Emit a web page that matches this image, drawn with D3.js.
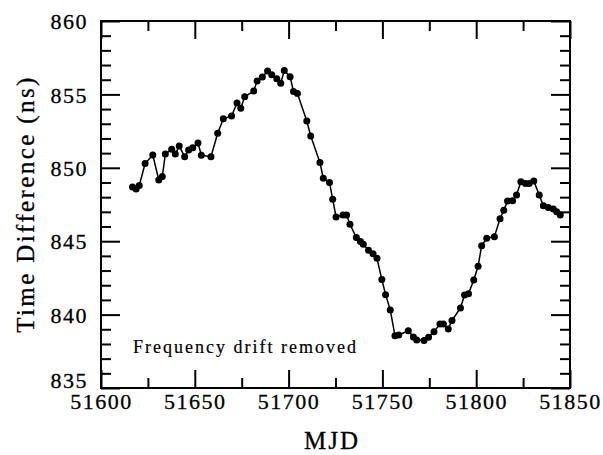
<!DOCTYPE html>
<html>
<head>
<meta charset="utf-8">
<script src="https://cdn.jsdelivr.net/npm/d3@7"></script>
<style>
	body { margin: 0; background: #fff; }
	svg, svg text { font-family: "Liberation Serif", "DejaVu Serif", serif !important; }
</style>
</head>
<body>
<svg width="603" height="455" font-family="Liberation Serif"></svg>
<script>
// MJD of each sample
const mjd = [
	51616.8, 51618.7, 51620.4, 51623.5, 51627.6, 51630.8, 51632.7, 51634.3, 51637.7, 51639.6,
	51641.7, 51644.6, 51646.7, 51648.9, 51651.7, 51653.5, 51658.6, 51662.2, 51665.2, 51669.6,
	51672.5, 51674.5, 51676.6, 51681.4, 51683.2, 51686.0, 51688.8, 51691.0, 51693.7, 51695.8,
	51697.7, 51700.8, 51702.6, 51704.7, 51709.7, 51711.8, 51716.7, 51718.5, 51721.8, 51723.5,
	51725.3, 51729.0, 51730.9, 51732.7, 51736.1, 51738.3, 51739.8, 51742.6, 51745.0, 51747.1,
	51749.7, 51751.7, 51754.2, 51756.7, 51758.7, 51763.8, 51766.5, 51768.3, 51772.2, 51774.6,
	51777.5, 51780.7, 51782.5, 51785.1, 51787.1, 51791.6, 51793.8, 51795.9, 51798.7, 51801.0,
	51802.9, 51805.6, 51809.7, 51812.7, 51814.7, 51816.7, 51819.4, 51821.5, 51823.8, 51826.3,
	51828.2, 51830.7, 51833.6, 51835.8, 51838.4, 51841.1, 51842.9, 51844.8
]

// time difference (ns)
const timeDiff = [
	848.69, 848.56, 848.79, 850.29, 850.87, 849.17, 849.41, 850.94, 851.26, 850.94,
	851.48, 850.76, 851.21, 851.37, 851.69, 850.85, 850.76, 852.35, 853.34, 853.53,
	854.41, 854.05, 854.84, 855.23, 855.91, 856.19, 856.59, 856.34, 856.07, 855.76,
	856.63, 856.21, 855.20, 855.06, 853.19, 852.17, 850.36, 849.28, 849.00, 847.86,
	846.65, 846.78, 846.78, 846.15, 845.25, 844.98, 844.79, 844.38, 844.15, 843.84,
	842.39, 841.36, 840.31, 838.56, 838.61, 838.90, 838.47, 838.27, 838.24, 838.45,
	838.84, 839.36, 839.36, 839.02, 839.60, 840.45, 841.34, 841.42, 842.36, 843.29,
	844.69, 845.20, 845.31, 846.53, 847.10, 847.74, 847.76, 848.15, 849.05, 848.93,
	848.93, 849.10, 848.15, 847.41, 847.30, 847.19, 847.01, 846.78
]

const xTicks = [51600, 51650, 51700, 51750, 51800, 51850]
const xMinor = [51625, 51675, 51725, 51775, 51825]
const yTicks = [835, 840, 845, 850, 855, 860]
const yMinor = d3.range(835, 861).filter(v => v % 5 !== 0)

const svg = d3.select('svg')
const mLeft = 101, mRight = 570, mTop = 21, mBottom = 388

const x = d3.scaleLinear().domain([51600, 51850]).range([mLeft, mRight])
const y = d3.scaleLinear().domain([835, 860]).range([mBottom, mTop])

const data = mjd.map((m, i) => ({m, v: timeDiff[i]}))

// ticks, all pointing inward
const tickAxis = (axis, tx, ty) => {
	const g = svg.append('g').attr('transform', `translate(${tx},${ty})`).call(axis)
	g.attr('font-family', null).attr('font-size', null)
	g.select('.domain').remove()
	g.selectAll('line').attr('stroke', '#000').attr('stroke-width', 2)
	g.selectAll('text').attr('fill', '#000')
		.attr('stroke', '#000').attr('stroke-width', 0.3)
	return g
}

const gx = tickAxis(d3.axisBottom(x).tickValues(xTicks).tickSize(-18).tickFormat(d3.format('d')), 0, mBottom)
tickAxis(d3.axisBottom(x).tickValues(xMinor).tickSize(-10).tickFormat(''), 0, mBottom)
tickAxis(d3.axisTop(x).tickValues(xTicks).tickSize(-18).tickFormat(''), 0, mTop)
tickAxis(d3.axisTop(x).tickValues(xMinor).tickSize(-10).tickFormat(''), 0, mTop)

const gy = tickAxis(d3.axisLeft(y).tickValues(yTicks).tickSize(-19).tickFormat(d3.format('d')), mLeft, 0)
tickAxis(d3.axisLeft(y).tickValues(yMinor).tickSize(-10).tickFormat(''), mLeft, 0)
tickAxis(d3.axisRight(y).tickValues(yTicks).tickSize(-19).tickFormat(''), mRight, 0)
tickAxis(d3.axisRight(y).tickValues(yMinor).tickSize(-10).tickFormat(''), mRight, 0)

gx.selectAll('text')
	.attr('y', 21).attr('dy', 0)
	.style('font-size', '22px').style('letter-spacing', '1.5px')
	.attr('text-anchor', 'middle')

gy.selectAll('text')
	.attr('x', -13).attr('dy', '0.35em')
	.attr('y', d => d === 835 ? -8 : 0)
	.style('font-size', '22px').style('letter-spacing', '1.5px')
	.attr('text-anchor', 'end')

// frame
svg.append('rect')
	.attr('x', mLeft).attr('y', mTop)
	.attr('width', mRight - mLeft).attr('height', mBottom - mTop)
	.attr('fill', 'none').attr('stroke', '#000').attr('stroke-width', 2)

// series
svg.append('path')
	.datum(data)
	.attr('fill', 'none')
	.attr('stroke', '#000')
	.attr('stroke-width', 1.5)
	.attr('d', d3.line().x(d => x(d.m)).y(d => y(d.v)))

svg.append('g').selectAll('circle')
	.data(data)
	.join('circle')
	.attr('cx', d => x(d.m))
	.attr('cy', d => y(d.v))
	.attr('r', 3.5)
	.attr('fill', '#000')

// labels
svg.append('text')
	.attr('x', 332).attr('y', 449)
	.attr('text-anchor', 'middle')
	.attr('stroke', '#000').attr('stroke-width', 0.3)
	.style('font-size', '25px').style('letter-spacing', '2px')
	.text('MJD')

svg.append('text')
	.attr('transform', 'translate(34,204) rotate(-90)')
	.attr('text-anchor', 'middle')
	.attr('stroke', '#000').attr('stroke-width', 0.3)
	.style('font-size', '25px').style('letter-spacing', '2.4px')
	.text('Time Difference (ns)')

svg.append('text')
	.attr('x', 133).attr('y', 353)
	.attr('stroke', '#000').attr('stroke-width', 0.2)
	.style('font-size', '18px').style('letter-spacing', '2px')
	.text('Frequency drift removed')
</script>
</body>
</html>
